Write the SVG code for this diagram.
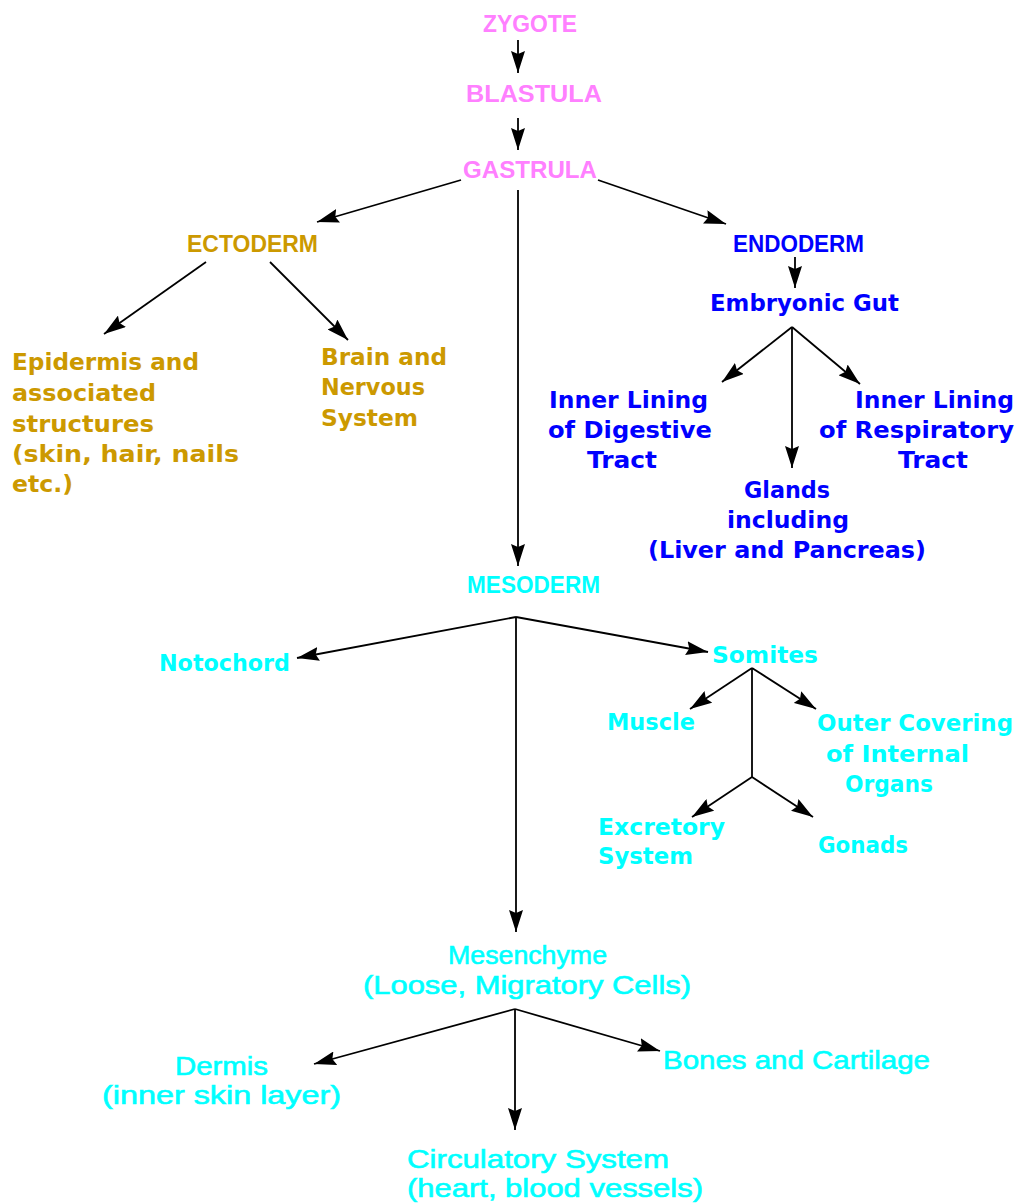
<svg xmlns="http://www.w3.org/2000/svg" width="1019" height="1203" viewBox="0 0 1019 1203">
<defs>
<marker id="ah" viewBox="0 0 22 14" refX="22" refY="7" markerWidth="22" markerHeight="14" markerUnits="userSpaceOnUse" orient="auto">
<path d="M0,0 L22,7 L0,14 L3,7 z" fill="#000"/>
</marker>
<style>
.t{font-family:"DejaVu Sans","Liberation Sans",sans-serif;font-weight:bold;font-size:23px}
.u{font-family:"Liberation Sans","DejaVu Sans",sans-serif;font-weight:bold;font-size:23px}
.c{font-family:"Liberation Sans","DejaVu Sans",sans-serif;font-size:25px;stroke-width:0.6}
.pk{fill:#FF80FF}
.gd{fill:#CC9900}
.bl{fill:#0000FF}
.cy{fill:#00FFFF}
.c.cy{stroke:#00FFFF}
.ln{stroke:#000;stroke-width:1.8;fill:none}
.ar{stroke:#000;stroke-width:1.8;fill:none;marker-end:url(#ah)}
</style>
</defs>
<rect width="1019" height="1203" fill="#fff"/>
<g id="connectors">
<line class="ar" x1="518" y1="40" x2="518" y2="73"/>
<line class="ar" x1="518" y1="118" x2="518" y2="150"/>
<line class="ar" x1="461" y1="180" x2="317" y2="222"/>
<line class="ar" x1="598" y1="180" x2="726" y2="224"/>
<line class="ar" x1="518" y1="190" x2="518" y2="566"/>
<line class="ar" x1="206" y1="262" x2="104" y2="334"/>
<line class="ar" x1="270" y1="262" x2="348" y2="340"/>
<line class="ar" x1="795" y1="257" x2="795" y2="288"/>
<line class="ar" x1="792" y1="327" x2="722" y2="382"/>
<line class="ar" x1="792" y1="327" x2="860" y2="384"/>
<line class="ar" x1="792" y1="327" x2="792" y2="468"/>
<line class="ar" x1="516" y1="617" x2="297" y2="658"/>
<line class="ar" x1="516" y1="617" x2="708" y2="652"/>
<line class="ar" x1="516" y1="617" x2="516" y2="932"/>
<line class="ar" x1="752" y1="668" x2="690" y2="709"/>
<line class="ar" x1="752" y1="668" x2="816" y2="709"/>
<line class="ln" x1="752" y1="668" x2="752" y2="777"/>
<line class="ar" x1="752" y1="777" x2="692" y2="817"/>
<line class="ar" x1="752" y1="777" x2="813" y2="817"/>
<line class="ar" x1="515" y1="1009" x2="314" y2="1064"/>
<line class="ar" x1="515" y1="1009" x2="660" y2="1051"/>
<line class="ar" x1="515" y1="1009" x2="515" y2="1130"/>
</g>
<g id="zygote"><text class="u pk" x="483" y="32" textLength="94" lengthAdjust="spacingAndGlyphs">ZYGOTE</text></g>
<g id="blastula"><text class="u pk" x="466" y="102" textLength="136" lengthAdjust="spacingAndGlyphs">BLASTULA</text></g>
<g id="gastrula"><text class="u pk" x="463" y="178" textLength="134" lengthAdjust="spacingAndGlyphs">GASTRULA</text></g>
<g id="ectoderm"><text class="u gd" x="187" y="252" textLength="131" lengthAdjust="spacingAndGlyphs">ECTODERM</text></g>
<g id="epidermis">
<text class="t gd" x="12" y="370" textLength="187" lengthAdjust="spacingAndGlyphs">Epidermis and</text>
<text class="t gd" x="12" y="401" textLength="144" lengthAdjust="spacingAndGlyphs">associated</text>
<text class="t gd" x="12" y="432" textLength="142" lengthAdjust="spacingAndGlyphs">structures</text>
<text class="t gd" x="12" y="462" textLength="227" lengthAdjust="spacingAndGlyphs">(skin, hair, nails</text>
<text class="t gd" x="12" y="492" textLength="61" lengthAdjust="spacingAndGlyphs">etc.)</text>
</g>
<g id="brain">
<text class="t gd" x="321" y="365" textLength="126" lengthAdjust="spacingAndGlyphs">Brain and</text>
<text class="t gd" x="321" y="395" textLength="104" lengthAdjust="spacingAndGlyphs">Nervous</text>
<text class="t gd" x="321" y="426" textLength="97" lengthAdjust="spacingAndGlyphs">System</text>
</g>
<g id="endoderm"><text class="u bl" x="733" y="252" textLength="131" lengthAdjust="spacingAndGlyphs">ENDODERM</text></g>
<g id="embryonic-gut"><text class="t bl" x="710" y="311" textLength="189" lengthAdjust="spacingAndGlyphs">Embryonic Gut</text></g>
<g id="digestive">
<text class="t bl" x="549" y="408" textLength="159" lengthAdjust="spacingAndGlyphs">Inner Lining</text>
<text class="t bl" x="548" y="438" textLength="164" lengthAdjust="spacingAndGlyphs">of Digestive</text>
<text class="t bl" x="587" y="468" textLength="70" lengthAdjust="spacingAndGlyphs">Tract</text>
</g>
<g id="respiratory">
<text class="t bl" x="855" y="408" textLength="159" lengthAdjust="spacingAndGlyphs">Inner Lining</text>
<text class="t bl" x="819" y="438" textLength="195" lengthAdjust="spacingAndGlyphs">of Respiratory</text>
<text class="t bl" x="898" y="468" textLength="70" lengthAdjust="spacingAndGlyphs">Tract</text>
</g>
<g id="glands">
<text class="t bl" x="744" y="498" textLength="86" lengthAdjust="spacingAndGlyphs">Glands</text>
<text class="t bl" x="727" y="528" textLength="122" lengthAdjust="spacingAndGlyphs">including</text>
<text class="t bl" x="648" y="558" textLength="278" lengthAdjust="spacingAndGlyphs">(Liver and Pancreas)</text>
</g>
<g id="mesoderm"><text class="u cy" x="467" y="593" textLength="133" lengthAdjust="spacingAndGlyphs">MESODERM</text></g>
<g id="notochord"><text class="t cy" x="159" y="671" textLength="131" lengthAdjust="spacingAndGlyphs">Notochord</text></g>
<g id="somites"><text class="t cy" x="712" y="663" textLength="106" lengthAdjust="spacingAndGlyphs">Somites</text></g>
<g id="muscle"><text class="t cy" x="607" y="730" textLength="88" lengthAdjust="spacingAndGlyphs">Muscle</text></g>
<g id="outer-covering">
<text class="t cy" x="817" y="731" textLength="196" lengthAdjust="spacingAndGlyphs">Outer Covering</text>
<text class="t cy" x="826" y="762" textLength="143" lengthAdjust="spacingAndGlyphs">of Internal</text>
<text class="t cy" x="845" y="792" textLength="88" lengthAdjust="spacingAndGlyphs">Organs</text>
</g>
<g id="excretory">
<text class="t cy" x="598" y="835" textLength="127" lengthAdjust="spacingAndGlyphs">Excretory</text>
<text class="t cy" x="598" y="864" textLength="95" lengthAdjust="spacingAndGlyphs">System</text>
</g>
<g id="gonads"><text class="t cy" x="818" y="853" textLength="90" lengthAdjust="spacingAndGlyphs">Gonads</text></g>
<g id="mesenchyme">
<text class="c cy" x="448" y="964" textLength="159" lengthAdjust="spacingAndGlyphs">Mesenchyme</text>
<text class="c cy" x="363" y="994" textLength="328" lengthAdjust="spacingAndGlyphs">(Loose, Migratory Cells)</text>
</g>
<g id="dermis">
<text class="c cy" x="175" y="1075" textLength="93" lengthAdjust="spacingAndGlyphs">Dermis</text>
<text class="c cy" x="102" y="1104" textLength="239" lengthAdjust="spacingAndGlyphs">(inner skin layer)</text>
</g>
<g id="bones"><text class="c cy" x="663" y="1069" textLength="267" lengthAdjust="spacingAndGlyphs">Bones and Cartilage</text></g>
<g id="circulatory">
<text class="c cy" x="407" y="1168" textLength="262" lengthAdjust="spacingAndGlyphs">Circulatory System</text>
<text class="c cy" x="407" y="1197" textLength="296" lengthAdjust="spacingAndGlyphs">(heart, blood vessels)</text>
</g>
</svg>
